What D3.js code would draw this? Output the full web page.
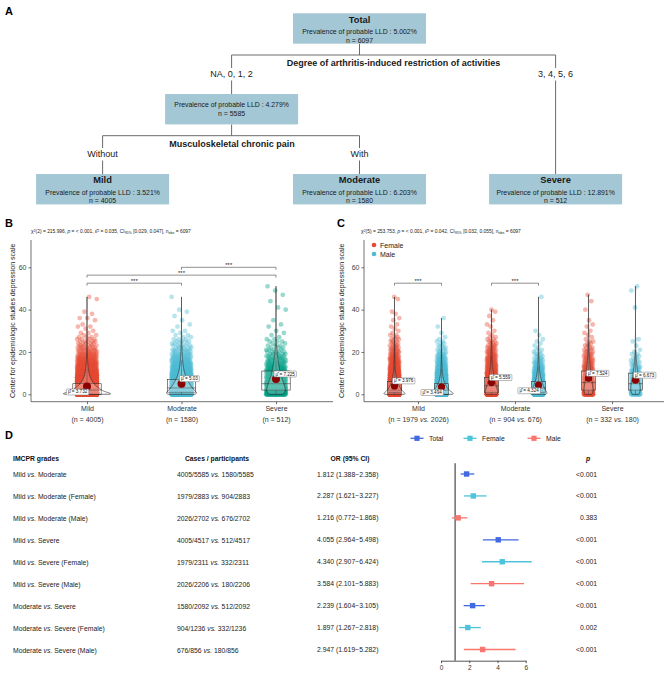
<!DOCTYPE html>
<html>
<head>
<meta charset="utf-8">
<script src="https://cdn.jsdelivr.net/npm/d3@7"></script>
<style>
  html,body{margin:0;padding:0;background:#fff;}
  svg text{font-family:"Liberation Sans",Arial,Helvetica,sans-serif;}
</style>
</head>
<body>
<svg id="fig" width="669" height="675"></svg>
<script>
// ===================== DATA =====================
// Panel A (decision tree)
const treeTitles = ["Total", "", "Mild", "Moderate", "Severe"];
const treePrevalence = ["5.002%", "4.279%", "3.521%", "6.203%", "12.891%"];
const treeN = [6097, 5585, 4005, 1580, 512];
const splitNames = ["Degree of arthritis-induced restriction of activities", "Musculoskeletal chronic pain"];
const branchNames = [["NA, 0, 1, 2", "3, 4, 5, 6"], ["Without", "With"]];

// Panels B / C
const grades = ["Mild", "Moderate", "Severe"];
const sexes = ["Female", "Male"];
const gradeN = [4005, 1580, 512];
const gradeNBySex = [[1979, 2026], [904, 676], [332, 180]];
const meanByGrade = [3.732, 5.03, 7.225];
const meanByGradeSex = [[3.976, 3.494], [5.559, 4.324], [7.524, 6.673]];
// CES-D score frequency (index = score)
const countsMildFemale = [488,290,240,190,150,120,95,75,60,48,38,30,24,20,16,14,12,10,8,7,6,5,5,4,3,3,3,2,2,1,1,1,1,1,0,1,1,0,1,1,0,0,0,0,0,1,1];
const countsMildMale = [559,330,260,200,150,115,90,70,52,40,32,25,19,15,12,10,8,7,6,5,4,3,3,2,2,2,1,1,0,1,0,0,1,0,0,0,1];
const countsModerateFemale = [154,100,90,80,70,60,52,45,38,32,27,22,19,16,14,12,10,9,8,7,6,5,5,4,3,3,2,2,1,1,1,0,1,1,0,1,0,1,0,1,1];
const countsModerateMale = [138,90,78,66,55,46,38,31,25,20,16,13,11,9,7,6,5,4,3,3,2,2,1,1,1,1,1,0,1,0,1,0,0,0,0,0,0,0,0,0,0,0,0,0,0,0,1];
const countsSevereFemale = [40,30,27,25,23,21,19,17,15,12,11,11,10,9,8,7,6,5,5,4,4,3,3,2,2,2,1,1,1,1,1,0,1,1,0,1,0,0,0,0,1,0,0,0,1,0,0,1];
const countsSevereMale = [18,17,16,15,14,13,12,11,10,8,7,6,5,4,4,3,3,2,2,2,1,1,0,1,0,1,1,0,0,0,0,0,0,0,0,0,0,0,0,0,0,1,0,0,0,0,0,0,0,1,0,1];
const statsB = ["2", "215.996", "< 0.001", "0.035", "[0.029, 0.047]", "6097"];
const statsC = ["5", "253.753", "< 0.001", "0.042", "[0.032, 0.055]", "6097"];
const sigPairsB = [["Mild", "Moderate"], ["Mild", "Severe"], ["Moderate", "Severe"]];
const sigHeightB = [52.5, 56.3, 60];
const sigGroupsC = ["Mild", "Moderate"];
const sigHeightC = [52.5, 52.5];
const sigLabel = "***";
const yTicks = [0, 20, 40, 60];
const yTitle = "Center for epidemiologic studies depression scale";

// Panel D (forest plot)
const orComparisons = ["Mild vs. Moderate", "Mild vs. Moderate (Female)", "Mild vs. Moderate (Male)",
  "Mild vs. Severe", "Mild vs. Severe (Female)", "Mild vs. Severe (Male)",
  "Moderate vs. Severe", "Moderate vs. Severe (Female)", "Moderate vs. Severe (Male)"];
const orCases = ["4005/5585 vs. 1580/5585", "1979/2883 vs. 904/2883", "2026/2702 vs. 676/2702",
  "4005/4517 vs. 512/4517", "1979/2311 vs. 332/2311", "2026/2206 vs. 180/2206",
  "1580/2092 vs. 512/2092", "904/1236 vs. 332/1236", "676/856 vs. 180/856"];
const orEstimate = [1.812, 2.287, 1.216, 4.055, 4.340, 3.584, 2.239, 1.897, 2.947];
const orLower = [1.388, 1.621, 0.772, 2.964, 2.907, 2.101, 1.604, 1.267, 1.619];
const orUpper = [2.358, 3.227, 1.868, 5.498, 6.424, 5.883, 3.105, 2.818, 5.282];
const orP = ["<0.001", "<0.001", "0.383", "<0.001", "<0.001", "<0.001", "<0.001", "0.002", "<0.001"];
const orSeries = ["Total", "Female", "Male", "Total", "Female", "Male", "Total", "Female", "Male"];
const seriesNames = ["Total", "Female", "Male"];
const forestTicks = [0, 2, 4, 6];
const tableHeaders = ["IMCPR grades", "Cases / participants", "OR (95% CI)", "p"];

// ===================== STYLE =====================
const gradeColors = ["#E64B35", "#4DBBD5", "#00A087"];
const sexColors = ["#E64B35", "#4DBBD5"];
const seriesColors = d3.scaleOrdinal().domain(seriesNames).range(["#4169E1", "#4EC3DC", "#F8766D"]);
const boxFill = "#A3C7D4";
const lineCol = "#6a6a6a";
const axisCol = "#333";
const txtCol = "#1a1a1a";
const FONT = '"Liberation Sans",Arial,sans-serif';

const svg = d3.select("#fig");

function panelLabel(t, x, y) {
  svg.append("text").attr("x", x).attr("y", y).attr("font-size", 11).attr("font-weight", "bold")
    .attr("fill", "#000").text(t);
}

// ===================== PANEL A =====================
panelLabel("A", 5, 15);
const A = svg.append("g");
const boxW = 133, boxH = 30.4;
const nodeLayout = [{cx: 359.5, y: 13.3}, {cx: 231.6, y: 94}, {cx: 102.6, y: 174}, {cx: 359.5, y: 174}, {cx: 555.6, y: 174}];
const line = (x1, y1, x2, y2) => A.append("line").attr("x1", x1).attr("y1", y1).attr("x2", x2).attr("y2", y2)
  .attr("stroke", lineCol).attr("stroke-width", 1);
const L = nodeLayout;
// connectors
line(L[0].cx, L[0].y + boxH, L[0].cx, 55);
line(L[1].cx, 55, L[4].cx, 55);
line(L[1].cx, 55, L[1].cx, 68); line(L[1].cx, 80.5, L[1].cx, L[1].y);
line(L[4].cx, 55, L[4].cx, 68); line(L[4].cx, 80.5, L[4].cx, L[4].y);
line(L[1].cx, L[1].y + boxH, L[1].cx, 135.7);
line(L[2].cx, 135.7, L[3].cx, 135.7);
line(L[2].cx, 135.7, L[2].cx, 148); line(L[2].cx, 160.5, L[2].cx, L[2].y);
line(L[3].cx, 135.7, L[3].cx, 148); line(L[3].cx, 160.5, L[3].cx, L[3].y);
// split / branch labels
A.append("text").attr("x", 393.6).attr("y", 63.3).attr("dominant-baseline", "central").attr("text-anchor", "middle")
  .attr("font-size", 9).attr("font-weight", "bold").attr("fill", txtCol).text(splitNames[0]);
A.append("text").attr("x", 232).attr("y", 144.3).attr("dominant-baseline", "central").attr("text-anchor", "middle")
  .attr("font-size", 9).attr("font-weight", "bold").attr("fill", txtCol).text(splitNames[1]);
[[L[1].cx, 74.2, branchNames[0][0]], [L[4].cx, 74.2, branchNames[0][1]], [L[2].cx, 154.2, branchNames[1][0]], [L[3].cx, 154.2, branchNames[1][1]]]
  .forEach(([x, y, t]) => A.append("text").attr("x", x).attr("y", y).attr("dominant-baseline", "central")
    .attr("text-anchor", "middle").attr("font-size", 9).attr("fill", txtCol).text(t));
// nodes
treeTitles.forEach((title, i) => {
  const p = L[i];
  A.append("rect").attr("x", p.cx - boxW / 2).attr("y", p.y).attr("width", boxW).attr("height", boxH).attr("fill", boxFill);
  const tx = (y, s, fs, fw) => A.append("text").attr("x", p.cx).attr("y", y).attr("text-anchor", "middle")
    .attr("dominant-baseline", "central").attr("font-size", fs).attr("font-weight", fw || "normal").attr("fill", txtCol).text(s);
  if (title) {
    tx(p.y + 6.2, title, 9.3, "bold");
    tx(p.y + 18.4, "Prevalence of probable LLD : " + treePrevalence[i], 6.9);
    tx(p.y + 26.9, "n = " + treeN[i], 6.9);
  } else {
    tx(p.y + 10.7, "Prevalence of probable LLD : " + treePrevalence[i], 6.9);
    tx(p.y + 19.3, "n = " + treeN[i], 6.9);
  }
});

// ===================== PANELS B & C helpers =====================
const PHI = 0.6180339887498949;
const frac = v => v - Math.floor(v);
function expand(counts) { const v = []; counts.forEach((c, s) => { for (let k = 0; k < c; k++) v.push(s); }); return v; }
function nrd0(values) {
  const sd = d3.deviation(values);
  const iqr = d3.quantile(values, 0.75) - d3.quantile(values, 0.25);
  let lo = Math.min(sd, iqr / 1.34); if (!(lo > 0)) lo = sd;
  return 0.9 * lo * Math.pow(values.length, -0.2);
}
function kde(counts, bw, yv) {
  let n = 0, s = 0;
  counts.forEach((c, k) => { if (!c) return; n += c; const z = (yv - k) / bw; s += c * Math.exp(-0.5 * z * z); });
  return s / (n * bw * Math.sqrt(2 * Math.PI));
}
function sumCounts(a, b) { const n = Math.max(a.length, b.length); return d3.range(n).map(i => (a[i] || 0) + (b[i] || 0)); }

const countsBySexGrade = [[countsMildFemale, countsMildMale], [countsModerateFemale, countsModerateMale], [countsSevereFemale, countsSevereMale]];

function subtitle(x, y, st) {
  const t = svg.append("text").attr("x", x).attr("y", y).attr("font-size", 4.9).attr("fill", "#222");
  const parts = [["χ", 0], ["2", 1], [`(${st[0]}) = ${st[1]}, `, 0], ["p", 3], [` = ${st[2]}, `, 0], ["ε̂", 0], ["2", 1],
    [` = ${st[3]}, CI`, 0], ["95%", 2], [` ${st[4]}, n`, 0], ["obs", 2], [` = ${st[5]}`, 0]];
  let cur = 0;
  parts.forEach(([s, k]) => {
    const target = k === 1 ? -1.6 : k === 2 ? 1.1 : 0;
    const ts = t.append("tspan").attr("dy", target - cur).text(s);
    cur = target;
    if (k === 1 || k === 2) ts.attr("font-size", 3.6);
    if (k === 3) ts.attr("font-style", "italic");
  });
}

function yAxisPanel(g, x, yScale, top, bottom, titleX) {
  const ax = g.append("g").attr("transform", `translate(${x},0)`)
    .call(d3.axisLeft(yScale).tickValues(yTicks).tickSize(2.5).tickSizeOuter(0).tickPadding(2));
  ax.select(".domain").remove();
  ax.selectAll("line").attr("stroke", axisCol).attr("stroke-width", 0.7);
  ax.selectAll("text").attr("font-size", 7).attr("fill", "#444").attr("font-family", FONT);
  g.append("line").attr("x1", x).attr("x2", x).attr("y1", top).attr("y2", bottom).attr("stroke", axisCol).attr("stroke-width", 0.7);
  g.append("text").attr("transform", `translate(${titleX},${(top + bottom) / 2}) rotate(-90)`).attr("text-anchor", "middle")
    .attr("dominant-baseline", "central").attr("font-size", 7).attr("fill", txtCol).text(yTitle);
}

function xAxisPanel(g, xScale, left, right, bottom, line2) {
  g.append("line").attr("x1", left).attr("x2", right).attr("y1", bottom).attr("y2", bottom).attr("stroke", axisCol).attr("stroke-width", 0.7);
  const ax = g.append("g").attr("transform", `translate(0,${bottom})`)
    .call(d3.axisBottom(xScale).tickSize(2.5).tickSizeOuter(0).tickPadding(3));
  ax.select(".domain").remove();
  ax.selectAll("line").attr("stroke", axisCol).attr("stroke-width", 0.7);
  ax.selectAll("text").each(function (d, i) {
    const t = d3.select(this).text(null).attr("font-size", 7).attr("fill", "#333")
      .attr("font-family", FONT).attr("dy", null).attr("y", 6.5);
    t.append("tspan").attr("x", 0).attr("dy", "0.35em").attr("fill", "#333").text(d);
    const l2 = t.append("tspan").attr("x", 0).attr("dy", 11).attr("fill", "#333");
    line2(l2, i);
  });
}

function violinPath(counts, cx, yScale) {
  const vals = expand(counts);
  const bw = nrd0(vals);
  const maxV = vals[vals.length - 1];
  const ys = d3.range(0, maxV + 1e-9, 0.1); if (ys[ys.length - 1] < maxV) ys.push(maxV);
  const pts = ys.map(y => ({y, d: kde(counts, bw, y)}));
  return {pts, draw: (g, dmaxAll, halfMax) => {
    const left = pts.map(p => [cx - p.d / dmaxAll * halfMax, yScale(p.y)]);
    const right = pts.slice().reverse().map(p => [cx + p.d / dmaxAll * halfMax, yScale(p.y)]);
    g.append("path").attr("d", d3.line()(left.concat(right)) + "Z").attr("fill", "#fff").attr("fill-opacity", 0.2)
      .attr("stroke", "#222").attr("stroke-width", 0.6);
  }};
}

function boxplot(g, counts, cx, halfW, yScale) {
  const v = expand(counts);
  const q1 = d3.quantile(v, 0.25), md = d3.quantile(v, 0.5), q3 = d3.quantile(v, 0.75), iqr = q3 - q1;
  const hi = d3.max(v.filter(a => a <= q3 + 1.5 * iqr)), lo = d3.min(v.filter(a => a >= q1 - 1.5 * iqr));
  const ln = (x1, y1, x2, y2) => g.append("line").attr("x1", x1).attr("y1", y1).attr("x2", x2).attr("y2", y2)
    .attr("stroke", "#333").attr("stroke-width", 0.6);
  ln(cx, yScale(q3), cx, yScale(hi)); ln(cx, yScale(q1), cx, yScale(lo));
  g.append("rect").attr("x", cx - halfW).attr("width", 2 * halfW).attr("y", yScale(q3)).attr("height", Math.max(0.5, yScale(q1) - yScale(q3)))
    .attr("fill", "#fff").attr("fill-opacity", 0.2).attr("stroke", "#333").attr("stroke-width", 0.6);
  ln(cx - halfW, yScale(md), cx + halfW, yScale(md));
}

function meanMark(g, px, py, value, side, rad) {
  g.append("circle").attr("cx", px).attr("cy", py).attr("r", rad).attr("fill", "#8B0000");
  const lab = g.append("g");
  const t = lab.append("text").attr("font-size", 4.6).attr("fill", "#111").attr("dominant-baseline", "central").text("μ̂ = " + value);
  const w = t.node().getComputedTextLength() + 3, h = 6;
  let x0, y0;
  if (side === "left") { x0 = px + 1.8 - w; y0 = py + 2.6; } else { x0 = px - 2; y0 = py - 2 - h; }
  lab.insert("rect", "text").attr("x", x0).attr("y", y0).attr("width", w).attr("height", h).attr("rx", 0.8)
    .attr("fill", "#fff").attr("stroke", "#777").attr("stroke-width", 0.5);
  t.attr("x", x0 + 1.5).attr("y", y0 + h / 2);
}

function bracket(g, x1, x2, yp, label) {
  g.append("path").attr("d", `M${x1},${yp + 2.5}V${yp}H${x2}V${yp + 2.5}`).attr("fill", "none").attr("stroke", "#444").attr("stroke-width", 0.6);
  g.append("text").attr("x", (x1 + x2) / 2).attr("y", yp - 0.6).attr("text-anchor", "middle").attr("font-size", 6).attr("fill", "#222").text(label);
}

// common y scale for B and C
const plotTop = 240, plotBottom = 401.7;
const yScale = d3.scaleLinear().domain([-3.5, 72.9]).range([plotBottom, plotTop]);

// ===================== PANEL B =====================
panelLabel("B", 5, 227);
subtitle(31, 233.3, statsB);
const B = svg.append("g");
const xB = d3.scalePoint().domain(grades).range([87, 276]);
const gradeCounts = grades.map((g, i) => sumCounts(countsBySexGrade[i][0], countsBySexGrade[i][1]));
grades.forEach((g, i) => {
  const vals = expand(gradeCounts[i]);
  B.append("g").selectAll("circle").data(vals).join("circle")
    .attr("cx", (d, k) => xB(g) + 10 * (2 * frac(k * PHI + 0.13 * i) - 1))
    .attr("cy", d => yScale(d)).attr("r", 2.4).attr("fill", gradeColors[i]).attr("fill-opacity", 0.4);
});
grades.forEach((g, i) => boxplot(B, gradeCounts[i], xB(g), 14.2, yScale));
const violB = grades.map((g, i) => violinPath(gradeCounts[i], xB(g), yScale));
const dMaxB = d3.max(violB, v => d3.max(v.pts, p => p.d));
violB.forEach(v => v.draw(B, dMaxB, 23.6));
const sideB = ["left", "right", "right"];
grades.forEach((g, i) => meanMark(B, xB(g), yScale(meanByGrade[i]), meanByGrade[i], sideB[i], 4));
sigPairsB.forEach((p, i) => bracket(B, xB(p[0]), xB(p[1]), yScale(sigHeightB[i]), sigLabel));
yAxisPanel(B, 31, yScale, plotTop, plotBottom, 12);
xAxisPanel(B, xB, 31, 333, plotBottom, (ts, i) => ts.text(`(n = ${gradeN[i]})`));

// ===================== PANEL C =====================
panelLabel("C", 337, 227);
subtitle(361, 233.3, statsC);
const C = svg.append("g");
const xC = d3.scalePoint().domain(grades).range([418, 612]);
const xSex = d3.scalePoint().domain(sexes).range([-23.5, 23.5]);
grades.forEach((g, i) => sexes.forEach((s, j) => {
  const vals = expand(countsBySexGrade[i][j]);
  C.append("g").selectAll("circle").data(vals).join("circle")
    .attr("cx", (d, k) => xC(g) + xSex(s) + 4.8 * (2 * frac(k * PHI + 0.21 * (i * 2 + j)) - 1))
    .attr("cy", d => yScale(d)).attr("r", 2.4).attr("fill", sexColors[j]).attr("fill-opacity", 0.4);
}));
grades.forEach((g, i) => sexes.forEach((s, j) => boxplot(C, countsBySexGrade[i][j], xC(g) + xSex(s), 7, yScale)));
const violC = [];
grades.forEach((g, i) => sexes.forEach((s, j) => violC.push(violinPath(countsBySexGrade[i][j], xC(g) + xSex(s), yScale))));
const dMaxC = d3.max(violC, v => d3.max(v.pts, p => p.d));
violC.forEach(v => v.draw(C, dMaxC, 11.7));
const sideC = [["right", "left"], ["right", "left"], ["right", "right"]];
grades.forEach((g, i) => sexes.forEach((s, j) =>
  meanMark(C, xC(g) + xSex(s), yScale(meanByGradeSex[i][j]), meanByGradeSex[i][j], sideC[i][j], 3.6)));
sigGroupsC.forEach((g, i) => bracket(C, xC(g) + xSex("Female"), xC(g) + xSex("Male"), yScale(sigHeightC[i]), sigLabel));
yAxisPanel(C, 364, yScale, plotTop, plotBottom, 341.7);
xAxisPanel(C, xC, 364, 664, plotBottom, (ts, i) => {
  ts.text(`(n = ${gradeNBySex[i][0]} `);
  ts.append("tspan").attr("font-style", "italic").text("vs.");
  ts.append("tspan").text(` ${gradeNBySex[i][1]})`);
});
sexes.forEach((s, j) => {
  const y = 245 + j * 9;
  C.append("circle").attr("cx", 374).attr("cy", y).attr("r", 2.3).attr("fill", sexColors[j]);
  C.append("text").attr("x", 380).attr("y", y).attr("dominant-baseline", "central").attr("font-size", 7).attr("fill", "#222").text(s);
});

// ===================== PANEL D =====================
panelLabel("D", 5, 438.5);
const D = svg.append("g");
const fs = 6.8;
const yD = d3.scalePoint().domain(d3.range(orComparisons.length)).range([474, 649.5]);
const xF = d3.scaleLinear().domain([0, 6]).range([441, 525.7]);
const legendX = [417, 470, 534];
seriesNames.forEach((s, i) => {
  const cx = legendX[i], cy = 438.3;
  D.append("line").attr("x1", cx - 6.5).attr("x2", cx + 6.5).attr("y1", cy).attr("y2", cy).attr("stroke", seriesColors(s)).attr("stroke-width", 1.3);
  D.append("rect").attr("x", cx - 2.6).attr("y", cy - 2.6).attr("width", 5.2).attr("height", 5.2).attr("fill", seriesColors(s));
  D.append("text").attr("x", cx + 12).attr("y", cy).attr("dominant-baseline", "central").attr("font-size", fs).attr("fill", "#222").text(s);
});
const hy = 458.5;
const hdr = (x, anchor, t, italic) => D.append("text").attr("x", x).attr("y", hy).attr("text-anchor", anchor).attr("dominant-baseline", "central")
  .attr("font-size", fs).attr("font-weight", "bold").attr("font-style", italic ? "italic" : "normal").attr("fill", "#111").text(t);
hdr(13, "start", tableHeaders[0]);
hdr(217, "middle", tableHeaders[1]);
hdr(350, "middle", tableHeaders[2]);
hdr(588, "middle", tableHeaders[3], true);
function vsText(x, y, str, anchor) {
  const t = D.append("text").attr("x", x).attr("y", y).attr("dominant-baseline", "central").attr("text-anchor", anchor || "start")
    .attr("font-size", fs).attr("fill", "#222");
  const parts = str.split("vs.");
  t.append("tspan").text(parts[0]);
  t.append("tspan").attr("font-style", "italic").text("vs.");
  t.append("tspan").text(parts[1]);
}
const fmt = d3.format(".3f");
orComparisons.forEach((c, i) => {
  const y = yD(i);
  vsText(13, y, c);
  vsText(177, y, orCases[i]);
  D.append("text").attr("x", 317).attr("y", y).attr("dominant-baseline", "central").attr("font-size", fs).attr("fill", "#222")
    .text(`${fmt(orEstimate[i])} (${fmt(orLower[i])}\u2212${fmt(orUpper[i])})`);
  D.append("text").attr("x", 597).attr("y", y).attr("text-anchor", "end").attr("dominant-baseline", "central").attr("font-size", fs).attr("fill", "#222")
    .text(orP[i]);
});
const axisY = 660.7;
D.append("line").attr("x1", xF(1)).attr("x2", xF(1)).attr("y1", 463.3).attr("y2", axisY).attr("stroke", "#555").attr("stroke-width", 1.3);
orComparisons.forEach((c, i) => {
  const y = yD(i), col = seriesColors(orSeries[i]);
  D.append("line").attr("x1", xF(orLower[i])).attr("x2", xF(orUpper[i])).attr("y1", y).attr("y2", y).attr("stroke", col).attr("stroke-width", 1.3);
  D.append("rect").attr("x", xF(orEstimate[i]) - 2.7).attr("y", y - 2.7).attr("width", 5.4).attr("height", 5.4).attr("fill", col);
});
const fax = D.append("g").attr("transform", `translate(0,${axisY})`)
  .call(d3.axisBottom(xF).tickValues(forestTicks).tickFormat(d3.format("d")).tickSize(2.5).tickSizeOuter(0).tickPadding(2));
fax.select(".domain").attr("stroke", "#555").attr("stroke-width", 1);
fax.selectAll("line").attr("stroke", "#555").attr("stroke-width", 1);
fax.selectAll("text").attr("font-size", 6.5).attr("fill", "#333").attr("font-family", FONT);
</script>
</body>
</html>
